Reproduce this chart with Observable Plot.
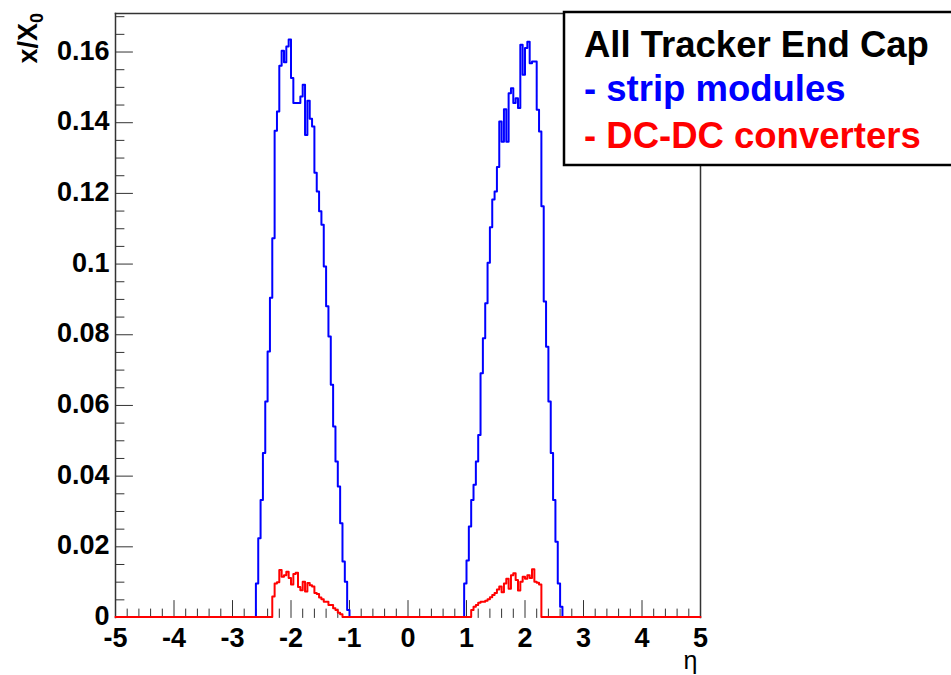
<!DOCTYPE html>
<html><head><meta charset="utf-8">
<script src="https://cdn.jsdelivr.net/npm/d3@7"></script>
<script src="https://cdn.jsdelivr.net/npm/@observablehq/plot@0.6"></script>
<style>html,body{margin:0;padding:0;background:#fff;overflow:hidden;}</style>
</head><body><div id="chart"></div>
<script>
// ---- data (bin width 0.04 in eta) ----
const binWidth = 0.04;
const etaMin = -5, etaMax = 5;

const blueLeftStart = -2.60;
const blueLeft = [0.0095, 0.0223, 0.0331, 0.0464, 0.0610, 0.0751, 0.0903, 0.1072, 0.1376, 0.1430,
  0.1560, 0.1602, 0.1570, 0.1614, 0.1634, 0.1525, 0.1454, 0.1454, 0.1454, 0.1473,
  0.1506, 0.1364, 0.1461, 0.1410, 0.1388, 0.1257, 0.1204, 0.1148, 0.1110, 0.0992,
  0.0879, 0.0794, 0.0657, 0.0539, 0.0440, 0.0369, 0.0265, 0.0157, 0.0100, 0.0020];

const blueRightStart = 0.96;
const blueRight = [0.0095, 0.0160, 0.0256, 0.0331, 0.0374, 0.0440, 0.0515, 0.0690, 0.0789, 0.0888,
  0.1002, 0.1103, 0.1181, 0.1204, 0.1273, 0.1402, 0.1345, 0.1437, 0.1345, 0.1482,
  0.1496, 0.1454, 0.1468, 0.1440, 0.1619, 0.1534, 0.1610, 0.1628, 0.1567, 0.1572,
  0.1572, 0.1435, 0.1374, 0.1162, 0.0893, 0.0765, 0.0610, 0.0464, 0.0331, 0.0213,
  0.0095, 0.0029];

const redLeftStart = -2.32;
const redLeft = [0.0058, 0.0095, 0.0098, 0.0133, 0.0114, 0.0118, 0.0128, 0.0110, 0.0092, 0.0122,
  0.0125, 0.0085, 0.0076, 0.0100, 0.0072, 0.0096, 0.0090, 0.0086, 0.0068, 0.0065,
  0.0055, 0.0050, 0.0043, 0.0043, 0.0034, 0.0034, 0.0025, 0.0020, 0.0012, 0.0008];

const redRightStart = 1.08;
const redRight = [0.0020, 0.0029, 0.0034, 0.0040, 0.0043, 0.0043, 0.0046, 0.0050, 0.0056, 0.0062,
  0.0068, 0.0078, 0.0086, 0.0070, 0.0095, 0.0108, 0.0080, 0.0118, 0.0124, 0.0105,
  0.0075, 0.0100, 0.0114, 0.0108, 0.0118, 0.0110, 0.0135, 0.0100, 0.0097, 0.0092];

const xMajorTicks = [-5, -4, -3, -2, -1, 0, 1, 2, 3, 4, 5];
const xTickLabels = ["-5", "-4", "-3", "-2", "-1", "0", "1", "2", "3", "4", "5"];
const yMajorTicks = [0, 0.02, 0.04, 0.06, 0.08, 0.10, 0.12, 0.14, 0.16];
const yTickLabels = ["0", "0.02", "0.04", "0.06", "0.08", "0.1", "0.12", "0.14", "0.16"];
const yMax = 0.1709;

const legendTitle = "All Tracker End Cap";
const legendSeries = ["- strip modules", "- DC-DC converters"];
const seriesColors = ["#0000ff", "#ff0000"];

// ---- build step series ----
function binValues(segments) {
  const n = Math.round((etaMax - etaMin) / binWidth);
  const v = new Array(n).fill(0);
  for (const [start, vals] of segments) {
    const i0 = Math.round((start - etaMin) / binWidth);
    vals.forEach((y, j) => { v[i0 + j] = y; });
  }
  return v;
}
// full histogram outline (including the zero baseline)
function fullSeries(v) {
  const pts = v.map((y, k) => ({eta: etaMin + k * binWidth, v: y, run: 0}));
  pts.push({eta: etaMax, v: v[v.length - 1], run: 0});
  return pts;
}
// outline of the non-empty runs only (baseline is covered by the other series)
function runSeries(segments) {
  const pts = [];
  segments.forEach(([start, vals], r) => {
    const i0 = Math.round((start - etaMin) / binWidth);
    pts.push({eta: etaMin + i0 * binWidth, v: 0, run: r});
    vals.forEach((y, j) => pts.push({eta: etaMin + (i0 + j) * binWidth, v: y, run: r}));
    pts.push({eta: etaMin + (i0 + vals.length) * binWidth, v: 0, run: r});
  });
  return pts;
}
const blueSeries = runSeries([[blueLeftStart, blueLeft], [blueRightStart, blueRight]]);
const redSeries = fullSeries(binValues([[redLeftStart, redLeft], [redRightStart, redRight]]));

const xMinorTicks = d3.range(-5, 5.0001, 0.2).filter(t => Math.abs(t - Math.round(t)) > 1e-6);
const yMinorTicks = d3.range(0, yMax, 0.005).filter(t => Math.abs(t / 0.02 - Math.round(t / 0.02)) > 1e-6);

const tickShape = {draw(ctx, l) { ctx.moveTo(0, 0); ctx.lineTo(0, -l); }};
const FONT = "Liberation Sans, Arial, Helvetica, sans-serif";
const tickColor = "#333";

const svg = Plot.plot({
  width: 951, height: 675,
  marginLeft: 115, marginRight: 251, marginTop: 13, marginBottom: 58,
  x: {domain: [etaMin, etaMax], axis: null},
  y: {domain: [0, yMax], axis: null},
  style: {fontFamily: FONT, background: "#fff", overflow: "hidden"},
  marks: [
    Plot.frame({anchor: "left", stroke: tickColor, strokeWidth: 1.5}),
    Plot.frame({anchor: "top", stroke: tickColor, strokeWidth: 1.5}),
    Plot.frame({anchor: "right", stroke: tickColor, strokeWidth: 1.5}),
    Plot.vector(xMajorTicks, {x: d => d, y: 0, length: 17, anchor: "start", shape: tickShape, stroke: tickColor, strokeWidth: 1}),
    Plot.vector(xMinorTicks, {x: d => d, y: 0, length: 8.5, anchor: "start", shape: tickShape, stroke: tickColor, strokeWidth: 1}),
    Plot.vector(yMajorTicks, {x: etaMin, y: d => d, length: 17, rotate: 90, anchor: "start", shape: tickShape, stroke: tickColor, strokeWidth: 1}),
    Plot.vector(yMinorTicks, {x: etaMin, y: d => d, length: 8.5, rotate: 90, anchor: "start", shape: tickShape, stroke: tickColor, strokeWidth: 1}),
    Plot.line(blueSeries, {x: "eta", y: "v", z: "run", curve: "step-after", stroke: seriesColors[0], strokeWidth: 2, dy: -0.5}),
    Plot.line(redSeries, {x: "eta", y: "v", curve: "step-after", stroke: seriesColors[1], strokeWidth: 2, dy: -0.5}),
    Plot.text(xMajorTicks, {x: d => d, frameAnchor: "bottom", lineAnchor: "top", dy: 10,
      text: (d, i) => xTickLabels[i], fontSize: 27, fontWeight: "bold", fill: "#000"}),
    Plot.text(yMajorTicks, {y: d => d, frameAnchor: "left", textAnchor: "end", dx: -6, dy: -1,
      text: (d, i) => yTickLabels[i], fontSize: 27, fontWeight: "bold", fill: "#000"}),
    Plot.text(["η"], {frameAnchor: "bottom-right", text: d => d, textAnchor: "end", dy: 51, dx: -3,
      fontSize: 25, fill: "#000"})
  ]
});
document.getElementById("chart").appendChild(svg);

// y-axis title with subscript
const s = d3.select(svg);
const yt = s.append("text")
  .attr("transform", "translate(37,13) rotate(-90)")
  .attr("text-anchor", "end")
  .attr("font-family", FONT).attr("font-weight", "bold").attr("font-size", 27).attr("fill", "#000");
yt.append("tspan").text("x/X");
yt.append("tspan").attr("font-size", 18).attr("dy", 6).text("0");

// legend box
const lg = s.append("g").attr("text-anchor", "start");
lg.append("rect").attr("x", 564).attr("y", 12).attr("width", 520).attr("height", 153)
  .attr("fill", "#fff").attr("stroke", "#000").attr("stroke-width", 2.5);
const legendLines = [[legendTitle, "#000", 57], [legendSeries[0], seriesColors[0], 101], [legendSeries[1], seriesColors[1], 148]];
for (const [t, c, yb] of legendLines) {
  lg.append("text").attr("x", 584).attr("y", yb).attr("fill", c).attr("text-anchor", "start")
    .attr("font-family", FONT).attr("font-weight", "bold").attr("font-size", 36.5).text(t);
}
</script>
</body></html>
